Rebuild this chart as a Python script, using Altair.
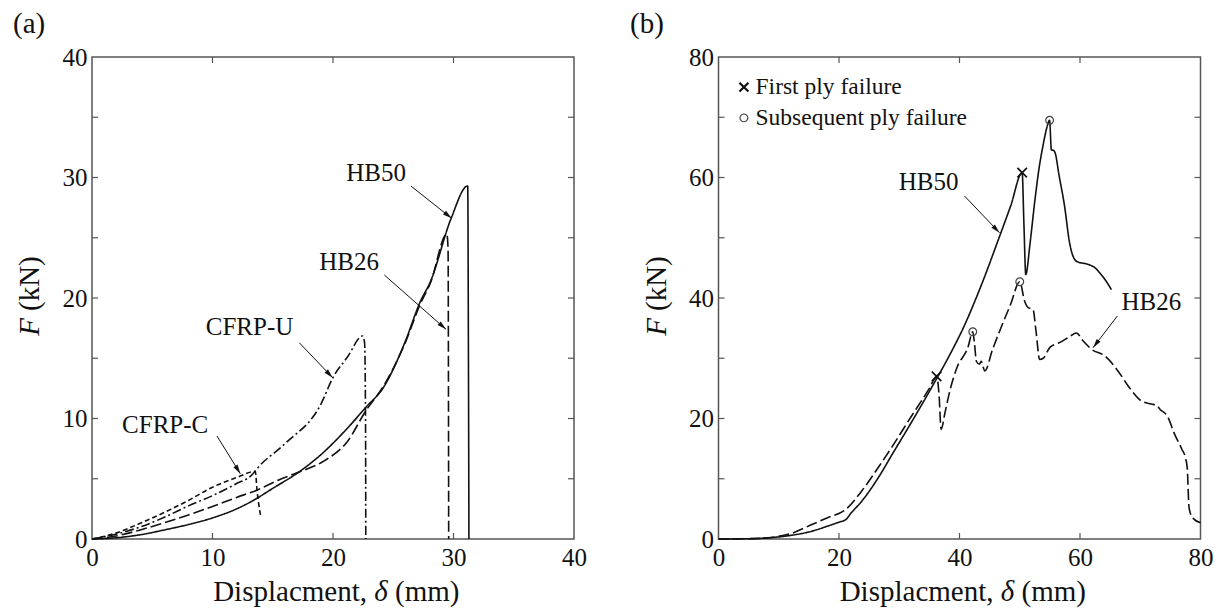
import math
import altair as alt
import pandas as pd

FONT = "Liberation Serif"
INK = "#111111"
FRAME = "#555555"
W, H = 482, 482
TICK_LEN = 6

# ---------------- Panel (a) data ----------------
A_X_DOMAIN = [0, 40]
A_Y_DOMAIN = [0, 40]
A_X_LABELS = [0, 10, 20, 30, 40]
A_Y_LABELS = [0, 10, 20, 30, 40]
A_X_TICKS = [10, 20, 30]
A_Y_TICKS = [5, 10, 15, 20, 25, 30, 35]

A_SERIES = ["HB50", "HB26", "CFRP-U", "CFRP-C"]
A_DASHES = [[1, 0], [11, 4], [9, 3, 2, 3], [5, 3]]

A_HB50_X = [0, 2, 4, 6, 8, 10, 12, 13.2, 15, 17.3, 19, 21.2, 22.7, 24.2, 26, 27.2, 28.1, 29.8, 31.18, 31.24, 31.28]
A_HB50_Y = [0, 0.1, 0.35, 0.75, 1.2, 1.75, 2.5, 3.1, 4.2, 5.65, 7.0, 9.2, 10.9, 12.6, 16.4, 19.6, 21.4, 26.6, 29.3, 15.0, 0]
A_HB26_X = [0, 2, 4, 6, 8, 10, 12, 13.8, 15.5, 17.3, 19.3, 21.2, 22.7, 24.2, 26, 27.2, 28.1, 29.45, 29.55, 29.6]
A_HB26_Y = [0, 0.25, 0.75, 1.35, 2.0, 2.7, 3.45, 4.1, 4.9, 5.6, 6.5, 8.1, 10.6, 12.7, 16.3, 19.4, 21.3, 25.3, 24.0, 0]
A_CFRPU_X = [0, 2, 4, 6, 8, 10, 12, 13.3, 13.75, 16, 19, 20, 21.2, 22.46, 22.62, 22.7, 22.72]
A_CFRPU_Y = [0, 0.4, 1.0, 1.8, 2.75, 3.6, 4.6, 5.35, 5.9, 7.9, 11.2, 13.4, 15.1, 16.85, 16.3, 10.0, 0]
A_CFRPC_X = [0, 2, 4, 6, 8, 10, 12, 13.55, 13.7, 14.0]
A_CFRPC_Y = [0, 0.5, 1.3, 2.2, 3.2, 4.3, 5.1, 5.6, 4.0, 1.9]

A_LABEL_TEXT = ["HB50", "HB26", "CFRP-U", "CFRP-C"]
A_LABEL_X = [23.57, 21.33, 13.07, 6.07]
A_LABEL_Y = [30.37, 22.99, 17.59, 9.46]
A_ARROW_X = [26.47, 24.26, 17.20, 10.37]
A_ARROW_Y = [29.29, 21.91, 16.29, 8.55]
A_TIP_X = [29.85, 29.38, 19.97, 12.31]
A_TIP_Y = [26.61, 17.40, 13.39, 5.42]

# ---------------- Panel (b) data ----------------
B_X_DOMAIN = [0, 80]
B_Y_DOMAIN = [0, 80]
B_X_LABELS = [0, 20, 40, 60, 80]
B_Y_LABELS = [0, 20, 40, 60, 80]
B_X_TICKS = [20, 40, 60]
B_Y_TICKS = [10, 20, 30, 40, 50, 60, 70]

B_SERIES = ["HB50", "HB26"]
B_DASHES = [[1, 0], [10, 4]]

B_HB50_X = [0, 5, 9, 12, 15.5, 18, 20, 21.1, 22, 23.8, 26.6, 28.8, 32.1, 35.4, 38.4, 40.8, 42.6, 44.0,
            46.6, 48.5, 50.4, 50.7, 51.0, 51.7, 52.5, 53.2, 53.9, 54.5, 54.95, 55.25, 55.6, 55.9, 56.5,
            57.4, 58.3, 58.9, 59.6, 61.3, 62.5, 63.5, 64.4, 65.2]
B_HB50_Y = [0, 0.05, 0.25, 0.6, 1.3, 2.1, 2.8, 3.2, 4.3, 6.3, 10.3, 14.0, 19.5, 25.2, 30.6, 35.4, 39.6, 43.1,
            50.1, 55.3, 60.8, 52.0, 43.9, 49.0, 56.1, 61.5, 65.5, 68.3, 69.5, 64.6, 64.5, 64.0, 60.5,
            55.5, 49.0, 46.8, 46.0, 45.6, 45.0, 43.9, 42.7, 41.4]
B_HB26_X = [0, 5, 9, 12, 15.5, 18, 21.1, 23.8, 26.6, 28.8, 32.1, 33.6, 35.0, 36.2, 36.6, 36.95, 37.6, 38.4,
            39.6, 41.4, 42.2, 42.5, 42.8, 43.3, 43.6, 44.2, 45.5, 46.9, 48.5, 50.0, 50.8, 51.4, 52.2, 52.7,
            53.3, 53.9, 55.0, 56.6, 58.0, 59.4, 60.5, 61.9, 64.1, 66.3, 68.0, 70.2, 71.8, 72.7, 73.3, 74.5,
            75.7, 76.9, 77.5, 77.8, 78.1, 78.7, 80.0]
B_HB26_Y = [0, 0.05, 0.3, 0.9, 2.4, 3.5, 4.9, 8.0, 12.0, 15.3, 20.5, 22.8, 25.0, 27.0, 24.0, 18.2, 21.0, 24.6,
            28.5, 31.8, 34.4, 32.3, 29.5, 29.0, 29.5, 27.9, 31.5, 35.1, 39.0, 42.7, 39.5, 38.4, 38.1, 34.5,
            29.8, 30.0, 31.8, 32.6, 33.4, 34.2, 32.9, 31.5, 30.4, 27.9, 25.4, 22.9, 22.4, 22.2, 21.5, 20.4,
            17.4, 14.9, 13.5, 11.8, 5.2, 3.5, 2.7]

B_FIRST_X = [36.2, 50.4]
B_FIRST_Y = [27.0, 60.8]
B_SUB_X = [42.2, 50.0, 54.95]
B_SUB_Y = [34.4, 42.7, 69.5]

B_LABEL_TEXT = ["HB50", "HB26"]
B_LABEL_X = [34.88, 71.84]
B_LABEL_Y = [59.25, 39.34]
B_ARROW_X = [40.83, 66.20]
B_ARROW_Y = [56.93, 37.01]
B_TIP_X = [46.64, 62.16]
B_TIP_Y = [50.84, 31.75]

LEGEND_TEXT = ["First ply failure", "Subsequent ply failure"]
LEGEND_MARK_X = [4.22, 4.22]
LEGEND_MARK_Y = [75.0, 69.9]
LEGEND_TEXT_X = [6.15, 6.15]

ARROW_SHAPE = "M0,0L0.6,2.3L-0.6,2.3Z"
CROSS_SHAPE = "M-1,-1L1,1M-1,1L1,-1"


def series_df(names, xs, ys):
    rows = []
    for n, X, Y in zip(names, xs, ys):
        for i, (x, y) in enumerate(zip(X, Y)):
            rows.append({"s": n, "i": i, "x": x, "y": y})
    return pd.DataFrame(rows)


def make_panel(tag, lines_df, names, dashes, xdom, ydom, xlab, ylab, xticks, yticks,
               lab_txt, lab_x, lab_y, arr_x, arr_y, tip_x, tip_y, extra=None, anchor=False):
    def xe(field):
        return alt.X(f"{field}:Q", scale=alt.Scale(domain=xdom, nice=False, zero=False),
                     axis=alt.Axis(values=xlab, title=None, ticks=False, domain=False, grid=False,
                                   labelFont=FONT, labelFontSize=25, labelColor=INK, labelPadding=6,
                                   labelFlush=False, labelOverlap=False, format="d"))

    def ye(field):
        return alt.Y(f"{field}:Q", scale=alt.Scale(domain=ydom, nice=False, zero=False),
                     axis=alt.Axis(values=ylab, title=None, ticks=False, domain=False, grid=False,
                                   labelFont=FONT, labelFontSize=25, labelColor=INK, labelPadding=5,
                                   labelFlush=False, labelOverlap=False, format="d"))

    sx = W / (xdom[1] - xdom[0])
    sy = H / (ydom[1] - ydom[0])
    angs = []
    for a, b, c, d in zip(arr_x, arr_y, tip_x, tip_y):
        ang = math.degrees(math.atan2((c - a) * sx, (d - b) * sy)) % 360
        angs.append(ang)

    layers = []
    layers.append(alt.Chart(lines_df).mark_line(strokeWidth=1.6, color=INK, interpolate="monotone").encode(
        x=xe("x"), y=ye("y"), detail="s:N", order="i:Q",
        strokeDash=alt.StrokeDash("s:N", scale=alt.Scale(domain=names, range=dashes), legend=None)))

    xt = pd.DataFrame({"t": xticks})
    yt = pd.DataFrame({"t": yticks})
    layers.append(alt.Chart(xt).mark_rule(color=FRAME, strokeWidth=1.2).encode(
        x=xe("t"), y=alt.value(H), y2=alt.value(H - TICK_LEN)))
    layers.append(alt.Chart(xt).mark_rule(color=FRAME, strokeWidth=1.2).encode(
        x=xe("t"), y=alt.value(0), y2=alt.value(TICK_LEN)))
    layers.append(alt.Chart(yt).mark_rule(color=FRAME, strokeWidth=1.2).encode(
        y=ye("t"), x=alt.value(0), x2=alt.value(TICK_LEN)))
    layers.append(alt.Chart(yt).mark_rule(color=FRAME, strokeWidth=1.2).encode(
        y=ye("t"), x=alt.value(W), x2=alt.value(W - TICK_LEN)))

    ann = pd.DataFrame({"x": lab_x, "y": lab_y, "label": lab_txt})
    layers.append(alt.Chart(ann).mark_text(font=FONT, fontSize=25, color=INK, align="center",
                                           baseline="middle").encode(x=xe("x"), y=ye("y"), text="label:N"))
    arr = pd.DataFrame({"x": arr_x, "y": arr_y, "x2": tip_x, "y2": tip_y, "ang": angs})
    layers.append(alt.Chart(arr).mark_rule(color=INK, strokeWidth=1).encode(
        x=xe("x"), y=ye("y"), x2="x2:Q", y2="y2:Q"))
    layers.append(alt.Chart(arr).mark_point(shape=ARROW_SHAPE, filled=True, size=64, color=INK,
                                            opacity=1, strokeWidth=0).encode(
        x=xe("x2"), y=ye("y2"), angle=alt.Angle("ang:Q", scale=None)))

    if extra is not None:
        for mk in extra(xe, ye):
            layers.append(mk)

    one = alt.Data(values=[{}])
    # x title
    layers.append(alt.Chart(one).mark_text(text="Displacment,", font=FONT, fontSize=29, color=INK,
                                           align="right", baseline="alphabetic").encode(
        x=alt.value(275), y=alt.value(H + 62)))
    layers.append(alt.Chart(one).mark_text(text="δ", font=FONT, fontSize=29, color=INK, fontStyle="italic",
                                           align="center", baseline="alphabetic").encode(
        x=alt.value(289), y=alt.value(H + 62)))
    layers.append(alt.Chart(one).mark_text(text="(mm)", font=FONT, fontSize=29, color=INK,
                                           align="left", baseline="alphabetic").encode(
        x=alt.value(303), y=alt.value(H + 62)))
    # y title
    layers.append(alt.Chart(one).mark_text(text="F", font=FONT, fontSize=29, color=INK, fontStyle="italic",
                                           align="center", baseline="middle", angle=270).encode(
        x=alt.value(-62), y=alt.value(270)))
    layers.append(alt.Chart(one).mark_text(text="(kN)", font=FONT, fontSize=29, color=INK,
                                           align="left", baseline="middle", angle=270).encode(
        x=alt.value(-62), y=alt.value(254)))
    # panel tag
    tag_x = -79 if tag == "(a)" else -88.5
    layers.append(alt.Chart(one).mark_text(text=tag, font=FONT, fontSize=29, color=INK,
                                           align="left", baseline="alphabetic").encode(
        x=alt.value(tag_x), y=alt.value(-24)))
    if anchor:
        layers.append(alt.Chart(one).mark_rule(color="white", strokeWidth=1).encode(
            x=alt.value(-90.5), x2=alt.value(-90.5), y=alt.value(-55.5), y2=alt.value(-54.5)))

    return alt.layer(*layers).properties(width=W, height=H)


a_df = series_df(A_SERIES, [A_HB50_X, A_HB26_X, A_CFRPU_X, A_CFRPC_X],
                 [A_HB50_Y, A_HB26_Y, A_CFRPU_Y, A_CFRPC_Y])
b_df = series_df(B_SERIES, [B_HB50_X, B_HB26_X], [B_HB50_Y, B_HB26_Y])


def b_extra(xe, ye):
    first = pd.DataFrame({"x": B_FIRST_X, "y": B_FIRST_Y})
    sub = pd.DataFrame({"x": B_SUB_X, "y": B_SUB_Y})
    leg_first = pd.DataFrame({"x": [LEGEND_MARK_X[0]], "y": [LEGEND_MARK_Y[0]]})
    leg_sub = pd.DataFrame({"x": [LEGEND_MARK_X[1]], "y": [LEGEND_MARK_Y[1]]})
    leg_txt = pd.DataFrame({"x": LEGEND_TEXT_X, "y": LEGEND_MARK_Y, "label": LEGEND_TEXT})
    out = []
    out.append(alt.Chart(first).mark_point(shape=CROSS_SHAPE, filled=False, size=90, color=INK,
                                           strokeWidth=1.7, opacity=1).encode(x=xe("x"), y=ye("y")))
    out.append(alt.Chart(sub).mark_point(shape="circle", filled=False, size=60, color="#444444",
                                         strokeWidth=1.2, opacity=1).encode(x=xe("x"), y=ye("y")))
    out.append(alt.Chart(leg_first).mark_point(shape=CROSS_SHAPE, filled=False, size=80, color=INK,
                                               strokeWidth=2.2, opacity=1).encode(x=xe("x"), y=ye("y")))
    out.append(alt.Chart(leg_sub).mark_point(shape="circle", filled=False, size=60, color="#444444",
                                             strokeWidth=1.2, opacity=1).encode(x=xe("x"), y=ye("y")))
    out.append(alt.Chart(leg_txt).mark_text(font=FONT, fontSize=23.5, color=INK, align="left",
                                            baseline="middle").encode(x=xe("x"), y=ye("y"), text="label:N"))
    return out


pa = make_panel("(a)", a_df, A_SERIES, A_DASHES, A_X_DOMAIN, A_Y_DOMAIN, A_X_LABELS, A_Y_LABELS,
                A_X_TICKS, A_Y_TICKS, A_LABEL_TEXT, A_LABEL_X, A_LABEL_Y, A_ARROW_X, A_ARROW_Y,
                A_TIP_X, A_TIP_Y, anchor=True)
pb = make_panel("(b)", b_df, B_SERIES, B_DASHES, B_X_DOMAIN, B_Y_DOMAIN, B_X_LABELS, B_Y_LABELS,
                B_X_TICKS, B_Y_TICKS, B_LABEL_TEXT, B_LABEL_X, B_LABEL_Y, B_ARROW_X, B_ARROW_Y,
                B_TIP_X, B_TIP_Y, extra=b_extra)

chart = alt.hconcat(pa, pb, spacing=144.5, bounds="flush").configure_view(
    stroke=FRAME, strokeWidth=1.5).properties(padding=0, background="white")

chart.save("out.html", embed_options={"renderer": "svg", "actions": False})
